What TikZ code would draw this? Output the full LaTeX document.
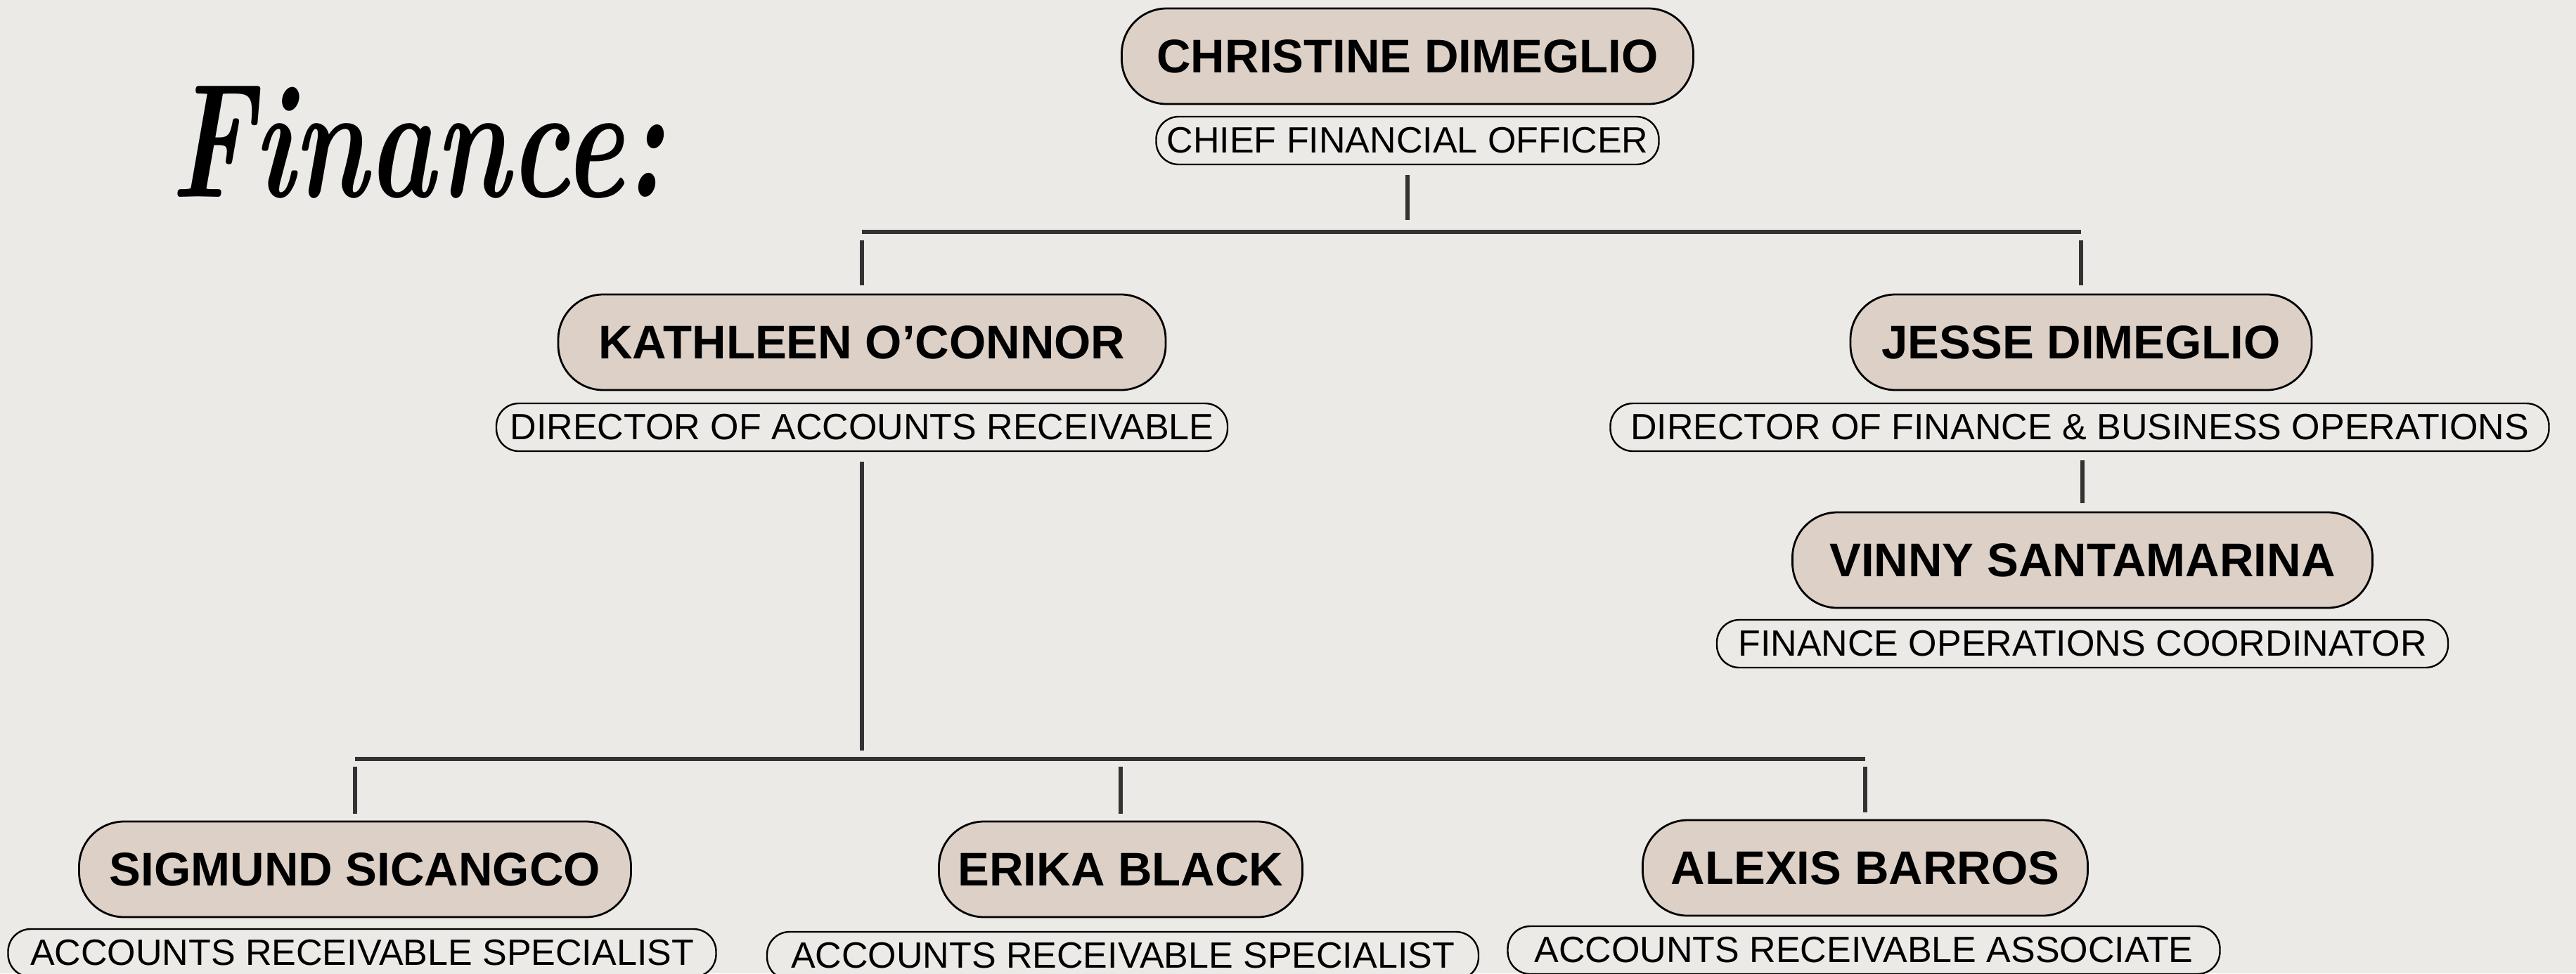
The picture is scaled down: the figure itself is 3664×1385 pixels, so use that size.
\documentclass[tikz,border=0pt]{standalone}
\usepackage{fontspec}
\newfontfamily\sansfam{Liberation Sans}
\definecolor{bgcol}{HTML}{ECEAE6}
\definecolor{namefill}{HTML}{DDD0C7}
\definecolor{linecol}{HTML}{333333}
\begin{document}
\begin{tikzpicture}[x=0.25pt,y=-0.25pt,
  namebox/.style={draw=black, line width=0.7pt, fill=namefill, rounded corners=16pt,
    minimum height=34pt, inner sep=0pt, font=\sansfam\bfseries\fontsize{16.8}{18}\selectfont},
  rolebox/.style={draw=black, line width=0.6pt, fill=bgcol, rounded corners=8pt,
    minimum height=17pt, inner sep=0pt, font=\sansfam\fontsize{13}{14}\selectfont},
  conn/.style={draw=linecol, line width=1.3pt}]
\fill[bgcol] (0,0) rectangle (3664,1385);
\useasboundingbox (0,0) rectangle (3664,1385);
\clip (0,0) rectangle (3664,1385);

\node[anchor=base, xscale=0.7, inner sep=0pt, font=\bfseries\itshape\fontsize{58}{58}\selectfont] (title) at (594,280) {Finance:};

% top
\node[namebox, minimum width=203.25pt] (chris) at (2002,80) {CHRISTINE DIMEGLIO};
\node[rolebox, minimum width=178.75pt] (cfo) at (2002,200) {CHIEF FINANCIAL OFFICER};

% second row
\node[namebox, minimum width=216pt] (kath) at (1226,487) {KATHLEEN O’CONNOR};
\node[rolebox, minimum width=260pt] (kathrole) at (1226,608) {DIRECTOR OF ACCOUNTS RECEIVABLE};
\node[namebox, minimum width=164pt] (jesse) at (2960,487) {JESSE DIMEGLIO};
\node[rolebox, minimum width=333.75pt] (jesserole) at (2958,608) {DIRECTOR OF FINANCE \& BUSINESS OPERATIONS};
\node[namebox, minimum width=206.25pt] (vinny) at (2962,797) {VINNY SANTAMARINA};
\node[rolebox, minimum width=260pt] (vinnyrole) at (2962,916) {FINANCE OPERATIONS COORDINATOR};

% bottom row
\node[namebox, minimum width=196.25pt] (sig) at (505,1237) {SIGMUND SICANGCO};
\node[rolebox, minimum width=251.75pt] (sigrole) at (515,1356) {ACCOUNTS RECEIVABLE SPECIALIST};
\node[namebox, minimum width=129.25pt] (erika) at (1594,1237) {ERIKA BLACK};
\node[rolebox, minimum width=253pt] (erikarole) at (1597,1360) {ACCOUNTS RECEIVABLE SPECIALIST};
\node[namebox, minimum width=158.25pt] (alexis) at (2653,1235) {ALEXIS BARROS};
\node[rolebox, minimum width=253.25pt] (alexisrole) at (2651,1352) {ACCOUNTS RECEIVABLE ASSOCIATE};

% buses
\coordinate (busA) at (2002,330);
\coordinate (busB) at (1229,1080);
\draw[conn] (kath.north |- busA) -- (jesse.north |- busA);
\draw[conn] (sig.north |- busB) -- (alexis.north |- busB);

% connectors
\draw[conn, shorten <=3.5pt, shorten >=4.2pt] (cfo.south) -- (cfo.south |- busA);
\draw[conn, shorten <=3pt, shorten >=3pt] (kath.north |- busA) -- (kath.north);
\draw[conn, shorten <=3pt, shorten >=3pt] (jesse.north |- busA) -- (jesse.north);
\draw[conn, shorten <=3.5pt, shorten >=3pt] (kathrole.south) -- (kathrole.south |- busB);
\draw[conn, shorten <=3pt, shorten >=2.8pt] (vinny.north |- jesserole.south) -- (vinny.north);
\draw[conn, shorten <=2.8pt, shorten >=2.5pt] (sig.north |- busB) -- (sig.north);
\draw[conn, shorten <=2.8pt, shorten >=2.5pt] (erika.north |- busB) -- (erika.north);
\draw[conn, shorten <=2.8pt, shorten >=2.5pt] (alexis.north |- busB) -- (alexis.north);
\end{tikzpicture}
\end{document}
